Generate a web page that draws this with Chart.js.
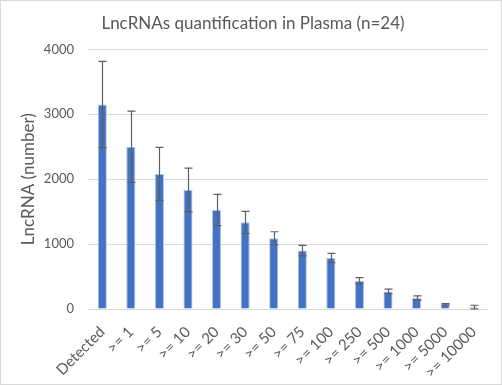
<!DOCTYPE html>
<html lang="en">
<head>
  <meta charset="UTF-8">
  <title>LncRNAs quantification in Plasma</title>
  <script src="https://cdn.jsdelivr.net/npm/chart.js"></script>
  <style>
    body { margin: 0; background: #fff; }
    .frame {
      position: absolute;
      left: 0; top: 0;
      width: 500px; height: 383px;
      border: 1px solid #d9d9d9;
      background: #fff;
    }
  </style>
</head>
<body>
  <div class="frame">
    <canvas id="lncChart" width="500" height="383"></canvas>
  </div>

  <script>
    const categories = ['Detected', '>= 1', '>= 5', '>= 10', '>= 20', '>= 30', '>= 50',
      '>= 75', '>= 100', '>= 250', '>= 500', '>= 1000', '>= 5000', '>= 10000'];
    const lncCounts = [3150, 2500, 2080, 1835, 1525, 1335, 1090, 900, 785, 437, 270, 170, 72, 28];
    const lncErrors = [665, 550, 410, 335, 240, 170, 100, 80, 72, 47, 35, 32, 12, 30];
    const yTicks = [0, 1000, 2000, 3000, 4000];

    const textColor = '#595959';
    const fontFamily = 'Lato, "Liberation Sans", sans-serif';

    // Error bars drawn on top of the bars, positioned with the y scale
    const errorBars = {
      id: 'errorBars',
      afterDatasetsDraw(chart) {
        const ctx = chart.ctx;
        const y = chart.scales.y;
        const meta = chart.getDatasetMeta(0);
        ctx.save();
        ctx.strokeStyle = '#5f5f5f';
        ctx.lineWidth = 1.2;
        meta.data.forEach((bar, i) => {
          const v = lncCounts[i];
          const e = lncErrors[i];
          const top = y.getPixelForValue(v + e);
          const bottom = y.getPixelForValue(Math.max(0, v - e));
          const x = Math.round(bar.x) + 0.5;
          ctx.beginPath();
          ctx.moveTo(x, top);
          ctx.lineTo(x, bottom);
          ctx.moveTo(x - 4, top);
          ctx.lineTo(x + 4, top);
          ctx.moveTo(x - 4, bottom);
          ctx.lineTo(x + 4, bottom);
          ctx.stroke();
        });
        ctx.restore();
      }
    };

    const ctx = document.getElementById('lncChart').getContext('2d');
    new Chart(ctx, {
      type: 'bar',
      data: {
        labels: categories,
        datasets: [{
          label: 'LncRNA',
          data: lncCounts,
          backgroundColor: '#4472c4',
          borderColor: '#b4c7e7',
          borderWidth: 1,
          barPercentage: 0.32,
          categoryPercentage: 1.0
        }]
      },
      options: {
        responsive: false,
        animation: false,
        layout: { padding: { left: 17, right: 13, top: 0, bottom: 4 } },
        plugins: {
          legend: { display: false },
          tooltip: { enabled: false },
          title: {
            display: true,
            text: 'LncRNAs quantification in Plasma (n=24)',
            color: textColor,
            font: { family: fontFamily, size: 17, weight: 'normal' },
            padding: { top: 12, bottom: 16 }
          }
        },
        scales: {
          x: {
            grid: { display: false },
            border: { display: false },
            ticks: {
              color: textColor,
              font: { family: fontFamily, size: 15 },
              minRotation: 45,
              maxRotation: 45,
              autoSkip: false,
              padding: 6
            },
            afterFit(scale) { scale.height = 71; }
          },
          y: {
            min: 0,
            max: 4000,
            afterBuildTicks(scale) { scale.ticks = yTicks.map(v => ({ value: v })); },
            grid: { color: '#d9d9d9', lineWidth: 1, drawTicks: false },
            border: { display: false },
            ticks: {
              color: textColor,
              font: { family: fontFamily, size: 13 },
              padding: 14,
              callback: v => String(v)
            },
            title: {
              display: true,
              text: 'LncRNA (number)',
              color: textColor,
              font: { family: fontFamily, size: 17 },
              padding: { top: 0, bottom: 8 }
            },
            afterFit(scale) { scale.width = 70; }
          }
        }
      },
      plugins: [errorBars]
    });
  </script>
</body>
</html>
